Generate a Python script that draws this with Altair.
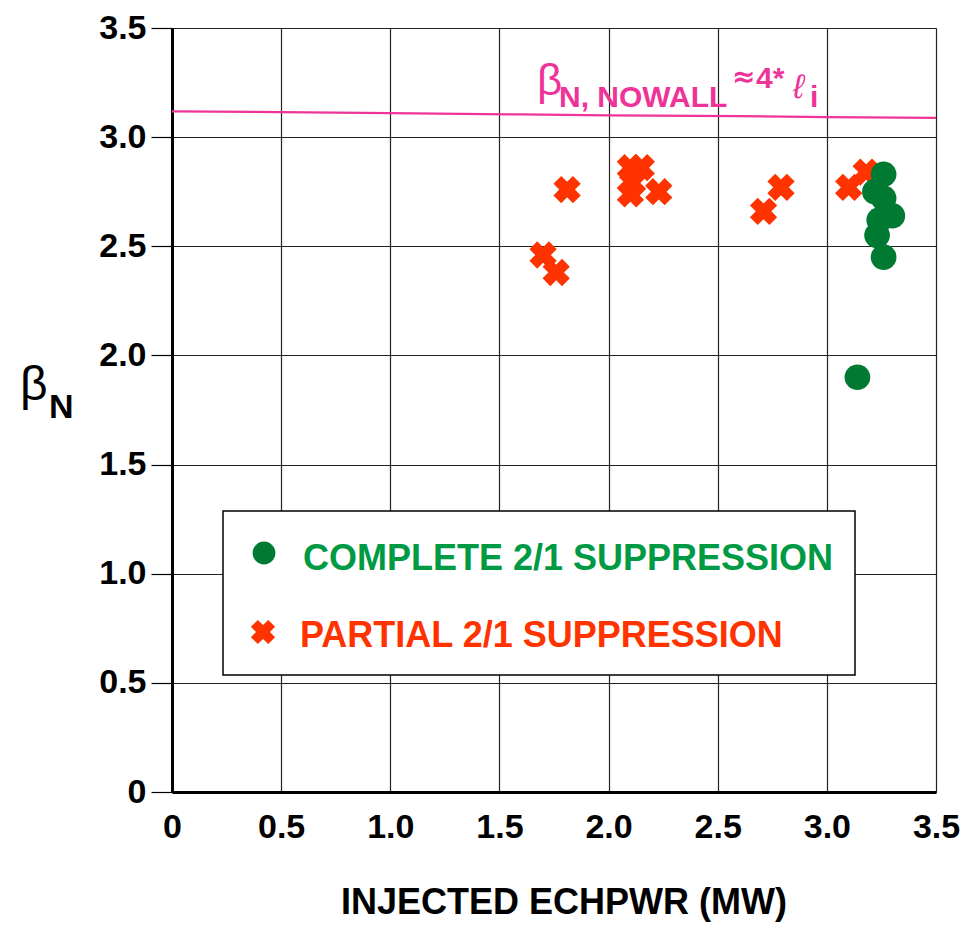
import altair as alt
import pandas as pd

# ---- data ----
partial_x = [1.70, 1.76, 1.81, 2.10, 2.15, 2.11, 2.10, 2.23, 2.71, 2.79, 3.10, 3.18]
partial_y = [2.46, 2.38, 2.76, 2.86, 2.86, 2.79, 2.74, 2.75, 2.66, 2.77, 2.77, 2.84]

complete_x = [3.26, 3.22, 3.26, 3.30, 3.24, 3.23, 3.26, 3.14]
complete_y = [2.83, 2.75, 2.72, 2.64, 2.62, 2.55, 2.45, 1.90]

nowall_x = [0.0, 0.5, 1.0, 1.6, 2.0, 2.6, 3.0, 3.5]
nowall_y = [3.118, 3.115, 3.110, 3.104, 3.100, 3.096, 3.092, 3.088]

tick_values = [0, 0.5, 1.0, 1.5, 2.0, 2.5, 3.0, 3.5]

GREEN = "#007a33"
GREEN_TXT = "#009a44"
RED = "#ff3300"
PINK = "#ee3399"
FONT = "Liberation Sans"

W, H = 764, 764

xs = alt.Scale(domain=[0, 3.5], nice=False, zero=False)
ys = alt.Scale(domain=[0, 3.5], nice=False, zero=False)

label_expr = "datum.value == 0 ? '0' : format(datum.value, '.1f')"

x_axis = alt.Axis(values=tick_values, labelExpr=label_expr, title=None, ticks=False,
                  labelFont=FONT, labelFontWeight="bold", labelFontSize=34, labelColor="black",
                  labelPadding=18, grid=True, gridColor="#222", gridWidth=1.2,
                  domainColor="black", domainWidth=3, labelFlush=False)
y_axis = alt.Axis(values=tick_values, labelExpr=label_expr, title=None, ticks=True,
                  tickSize=21, tickColor="black", tickWidth=1.2,
                  labelFont=FONT, labelFontWeight="bold", labelFontSize=34, labelColor="black",
                  labelPadding=5, grid=True, gridColor="#222", gridWidth=1.2,
                  domainColor="black", domainWidth=3, labelFlush=False)

df_partial = pd.DataFrame({"x": partial_x, "y": partial_y})
df_complete = pd.DataFrame({"x": complete_x, "y": complete_y})
df_nowall = pd.DataFrame({"x": nowall_x, "y": nowall_y})

line = alt.Chart(df_nowall).mark_line(color=PINK, strokeWidth=2.2).encode(
    x=alt.X("x:Q", scale=xs, axis=x_axis),
    y=alt.Y("y:Q", scale=ys, axis=y_axis),
)

crosses = alt.Chart(df_partial).mark_point(shape="cross", angle=45, filled=True,
                                           color=RED, size=760, opacity=1).encode(
    x=alt.X("x:Q", scale=xs), y=alt.Y("y:Q", scale=ys))

circles = alt.Chart(df_complete).mark_point(shape="circle", filled=True,
                                            color=GREEN, size=660, opacity=1).encode(
    x=alt.X("x:Q", scale=xs), y=alt.Y("y:Q", scale=ys))

one = pd.DataFrame({"a": [0]})

legend_box = alt.Chart(one).mark_rect(fill="white", stroke="black", strokeWidth=1.5).encode(
    x=alt.value(51), x2=alt.value(683), y=alt.value(483), y2=alt.value(647))

leg_circle = alt.Chart(one).mark_point(shape="circle", filled=True, color=GREEN,
                                       size=520, opacity=1).encode(
    x=alt.value(92), y=alt.value(525))
leg_cross = alt.Chart(one).mark_point(shape="cross", angle=45, filled=True, color=RED,
                                      size=600, opacity=1).encode(
    x=alt.value(91), y=alt.value(604))


def txt(s, x, y, size, color, weight="bold", style="normal", align="left", font=FONT):
    return alt.Chart(pd.DataFrame({"t": [s]})).mark_text(
        font=font, fontSize=size, fontWeight=weight, fontStyle=style, color=color,
        align=align, baseline="alphabetic").encode(
        x=alt.value(x), y=alt.value(y), text="t:N")


texts = [
    txt("COMPLETE 2/1 SUPPRESSION", 131, 542, 36, GREEN_TXT),
    txt("PARTIAL 2/1 SUPPRESSION", 128, 619, 36, RED),
    # annotation on the no-wall limit
    txt("β", 365, 67, 44, PINK, weight="normal"),
    txt("N, NOWALL", 387, 79, 30, PINK),
    txt("≈", 560, 58, 28, PINK, font="DejaVu Sans"),
    txt("4*", 584, 60, 30, PINK),
    txt("ℓ", 621, 70, 34, PINK, weight="normal", style="italic"),
    txt("i", 638, 79, 30, PINK),
    # y title
    txt("β", -152, 372, 48, "black", weight="normal"),
    txt("N", -123, 390, 34, "black"),
    # x title
    txt("INJECTED ECHPWR (MW)", 392, 886, 36, "black", align="center"),
]

chart = alt.layer(line, crosses, circles, legend_box, leg_circle, leg_cross, *texts).properties(
    width=W, height=H,
    autosize=alt.AutoSizeParams(type="none"),
    padding={"left": 164, "top": 20, "right": 24, "bottom": 130},
).configure_view(stroke="black", strokeWidth=3).configure(background="white")

chart.save("out.html", embed_options={"renderer": "svg", "actions": False})
